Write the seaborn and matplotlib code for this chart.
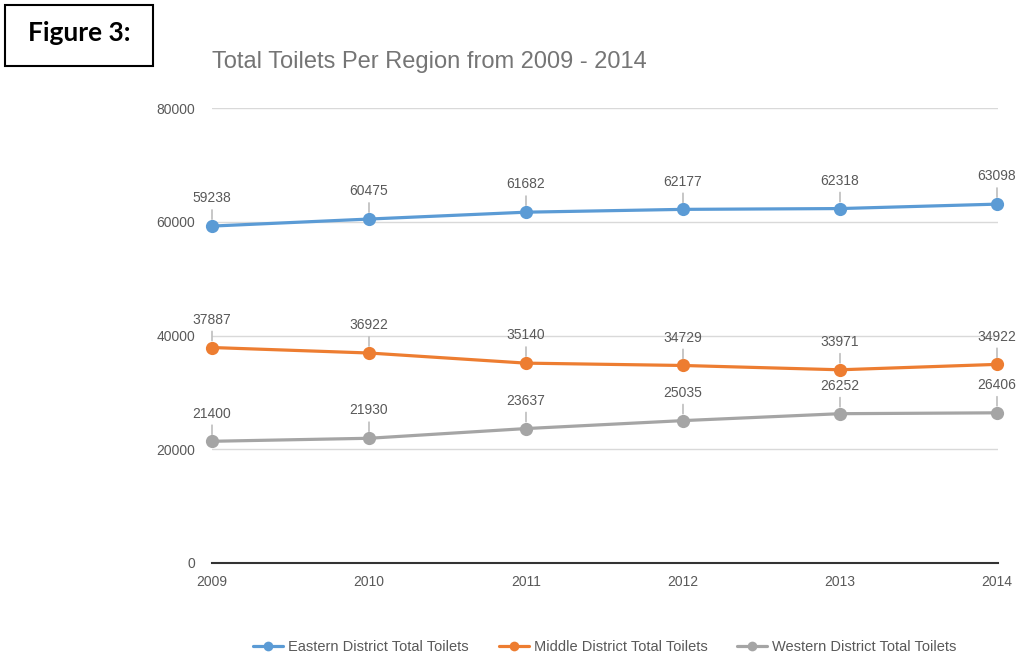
import matplotlib
matplotlib.use("Agg")
import matplotlib.pyplot as plt
from matplotlib.patches import Rectangle
import seaborn as sns
import pandas as pd

years = [2009, 2010, 2011, 2012, 2013, 2014]
series_names = ["Eastern District Total Toilets", "Middle District Total Toilets", "Western District Total Toilets"]
eastern = [59238, 60475, 61682, 62177, 62318, 63098]
middle = [37887, 36922, 35140, 34729, 33971, 34922]
western = [21400, 21930, 23637, 25035, 26252, 26406]
colors = ["#5b9bd5", "#ed7d31", "#a5a5a5"]
yticks = [0, 20000, 40000, 60000, 80000]

rows = []
for name, vals in zip(series_names, [eastern, middle, western]):
    for yr, v in zip(years, vals):
        rows.append({"Year": yr, "Value": v, "Series": name})
df = pd.DataFrame(rows)

sns.set_style("white")
plt.rcParams['font.family'] = ['Liberation Sans', 'DejaVu Sans']

fig = plt.figure(figsize=(10.2, 6.55), dpi=100)
ax = fig.add_axes([212/1020, 1 - 563/655, (998 - 212)/1020, (563 - 108)/655])

sns.lineplot(data=df, x="Year", y="Value", hue="Series", palette=colors,
             marker="o", markersize=9.5, markeredgewidth=0, linewidth=2.3,
             ax=ax, legend=False, clip_on=False, zorder=3)

# data labels with leader lines
for name, vals, c in zip(series_names, [eastern, middle, western], colors):
    for yr, v in zip(years, vals):
        ax.annotate(str(v), xy=(yr, v), xytext=(0, 20), textcoords="offset points",
                    ha="center", va="center", fontsize=10, color="#595959",
                    arrowprops=dict(arrowstyle="-", color="#bdbdbd", lw=1.2,
                                    shrinkA=1, shrinkB=5), zorder=4)

ax.set_ylim(0, 80000)
ax.set_xlim(2009, 2014 + 1/156)
ax.set_yticks(yticks)
ax.set_yticklabels([str(t) for t in yticks])
ax.set_xticks(years)
ax.set_xticklabels([str(y) for y in years])
ax.grid(axis="y", color="#d9d9d9", lw=1)
ax.set_axisbelow(True)
for s in ["top", "right", "left"]:
    ax.spines[s].set_visible(False)
ax.spines["bottom"].set_color("#333333")
ax.spines["bottom"].set_linewidth(1.5)
ax.tick_params(axis="both", length=0, labelsize=10, colors="#595959")
ax.tick_params(axis="y", pad=12)
ax.tick_params(axis="x", pad=9)
ax.set_xlabel("")
ax.set_ylabel("")

fig.text(212/1020, 1 - 62/655, "Total Toilets Per Region from 2009 - 2014",
         fontsize=17, color="#757575", va="center", ha="left")

# Figure label box
fig.patches.append(Rectangle((5/1020, 1 - 66/655), 148/1020, 61/655,
                             transform=fig.transFigure, fill=False,
                             edgecolor="black", lw=1.5))
fig.text(79/1020, 1 - 33/655, "Figure 3:", fontsize=19, fontweight="bold",
         family=["Lato", "DejaVu Sans"], ha="center", va="center", color="black")

# legend
handles = [plt.Line2D([0], [0], color=c, marker="o", markersize=7, lw=2.3,
                      markeredgewidth=0) for c in colors]
fig.legend(handles, series_names, loc="center", bbox_to_anchor=(605/1020, 1 - 647/655),
           ncol=3, frameon=False, fontsize=10.5, labelcolor="#595959",
           handlelength=2.05, columnspacing=2.05, handletextpad=0.35)

fig.savefig("out.png", dpi=100)
